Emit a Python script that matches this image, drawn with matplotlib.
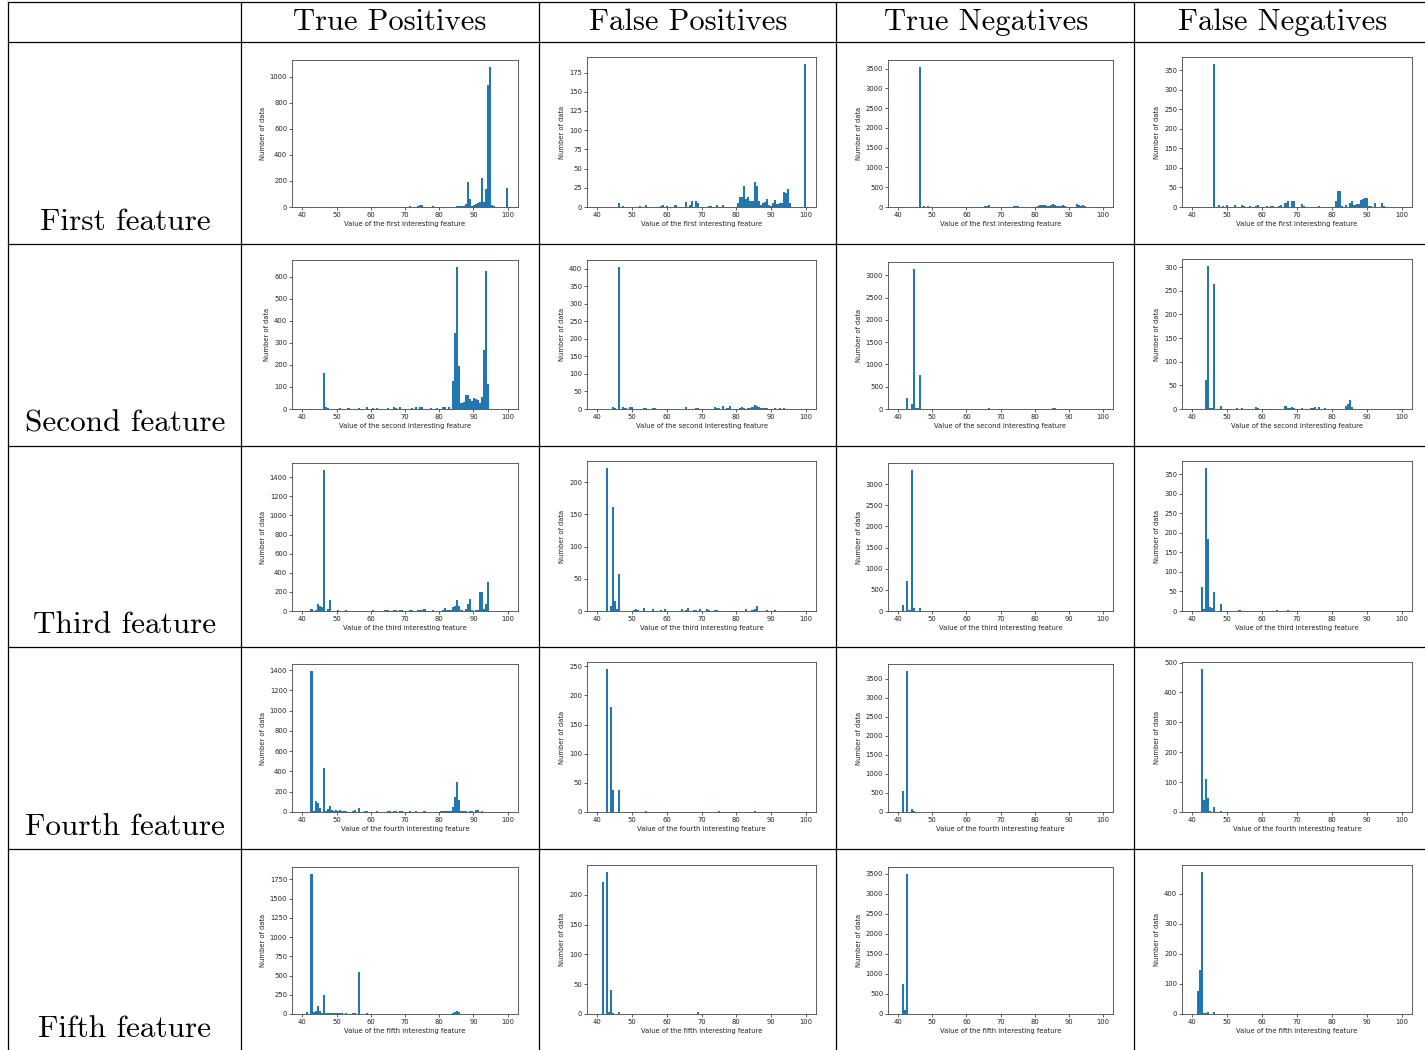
import matplotlib
matplotlib.use("Agg")
import matplotlib.pyplot as plt
from matplotlib.lines import Line2D
import numpy as np

# ---------------- data: (feature value, number of data) per histogram bin ----------------
columns = ["True Positives", "False Positives", "True Negatives", "False Negatives"]
rows = ["First feature", "Second feature", "Third feature", "Fourth feature", "Fifth feature"]
ordinals = ["first", "second", "third", "fourth", "fifth"]

TP1 = [(69.1, 3), (71.5, 4), (73.9, 5), (74.5, 13), (75.1, 14), (78.1, 8), (85.3, 4), (85.9, 4),
       (86.5, 5), (87.1, 6), (87.7, 25), (88.3, 195), (88.9, 60), (89.5, 10), (90.1, 15), (90.7, 20),
       (91.3, 30), (91.9, 40), (92.5, 225), (93.1, 40), (93.7, 135), (94.3, 940), (94.9, 1075),
       (95.5, 15), (96.1, 5), (99.7, 145)]
FP1 = [(46.3, 5), (47.5, 1), (52.3, 1), (54.1, 2), (58.3, 1), (58.9, 2), (60.1, 1), (62.5, 2),
       (65.5, 7), (66.7, 3), (67.3, 8), (68.5, 8), (69.1, 5), (72.1, 1), (72.7, 1), (74.5, 2),
       (76.3, 2), (80.5, 5), (81.1, 13), (81.7, 13), (82.3, 27), (82.9, 10), (83.5, 13), (84.1, 8),
       (84.7, 8), (85.3, 32), (85.9, 27), (86.5, 8), (87.1, 2), (87.7, 5), (88.3, 7), (88.9, 10),
       (89.5, 3), (90.1, 1), (90.7, 5), (91.3, 9), (91.9, 4), (92.5, 5), (93.1, 5), (93.7, 20),
       (94.3, 18), (94.9, 24), (95.5, 5), (99.7, 186)]
TN1 = [(46.3, 3540), (47.5, 15), (48.1, 10), (48.7, 15), (49.9, 12), (52.9, 10), (58.3, 10),
       (65.5, 20), (66.1, 25), (66.7, 40), (69.1, 10), (72.1, 10), (73.9, 15), (74.5, 15), (75.1, 15),
       (76.3, 10), (81.1, 30), (81.7, 60), (82.3, 50), (82.9, 40), (83.5, 20), (84.1, 30), (84.7, 40),
       (85.3, 80), (85.9, 40), (86.5, 20), (87.1, 15), (87.7, 30), (88.3, 50), (88.9, 20), (89.5, 10),
       (92.5, 70), (93.1, 40), (93.7, 20), (94.3, 50), (94.9, 20)]
FN1 = [(46.3, 365), (47.5, 5), (48.7, 2), (49.9, 5), (52.3, 5), (54.1, 6), (54.7, 3), (56.5, 2),
       (58.3, 2), (58.9, 4), (61.3, 2), (62.5, 3), (63.1, 3), (64.9, 2), (65.5, 5), (66.7, 10),
       (67.3, 15), (68.5, 15), (69.1, 15), (71.5, 8), (72.1, 3), (76.3, 2), (81.1, 15), (81.7, 40),
       (82.3, 40), (82.9, 2), (84.1, 5), (85.3, 10), (85.9, 15), (86.5, 5), (87.1, 7), (87.7, 8),
       (88.3, 17), (88.9, 20), (89.5, 23), (90.1, 22), (90.7, 3), (91.3, 3), (92.5, 10), (94.3, 10),
       (94.9, 3)]

TP2 = [(46.3, 165), (46.9, 10), (47.5, 5), (51.1, 3), (53.5, 3), (56.5, 3), (58.9, 10), (60.7, 4),
       (61.9, 4), (64.9, 4), (66.7, 10), (67.3, 5), (68.5, 8), (72.1, 4), (73.3, 8), (74.5, 8),
       (75.1, 8), (77.5, 5), (79.3, 4), (81.1, 10), (81.7, 8), (82.9, 10), (84.1, 125), (84.7, 345),
       (85.3, 645), (85.9, 195), (86.5, 28), (87.1, 30), (87.7, 62), (88.3, 62), (88.9, 45),
       (89.5, 35), (90.1, 48), (90.7, 45), (91.3, 40), (91.9, 28), (92.5, 55), (93.1, 268),
       (93.7, 625), (94.3, 115)]
FP2 = [(44.5, 5), (45.1, 2), (46.3, 405), (47.5, 5), (48.1, 3), (49.3, 5), (49.9, 5), (53.5, 3),
       (54.1, 3), (55.9, 3), (56.5, 3), (65.5, 5), (68.5, 3), (69.1, 3), (73.9, 5), (74.5, 3),
       (75.1, 3), (76.3, 8), (77.5, 3), (78.1, 8), (81.1, 3), (81.7, 6), (82.3, 3), (83.5, 3),
       (84.1, 3), (84.7, 5), (85.3, 10), (85.9, 8), (86.5, 5), (87.1, 4), (87.7, 4), (88.3, 4),
       (88.9, 4), (91.3, 3), (92.5, 2), (93.7, 2)]
TN2 = [(42.7, 240), (43.3, 10), (43.9, 120), (44.5, 3140), (45.1, 20), (45.7, 20), (46.3, 760),
       (66.7, 15), (85.3, 20), (85.9, 20)]
FN2 = [(43.9, 62), (44.5, 302), (45.1, 2), (45.7, 3), (46.3, 265), (48.1, 7), (52.9, 3), (54.1, 2),
       (58.3, 5), (58.9, 3), (66.7, 7), (67.3, 3), (67.9, 3), (68.5, 4), (69.1, 3), (71.5, 3),
       (73.9, 2), (74.5, 3), (75.1, 4), (76.3, 5), (78.1, 3), (84.1, 7), (84.7, 10), (85.3, 18),
       (85.9, 4)]

TP3 = [(42.7, 25), (43.9, 10), (44.5, 75), (45.1, 55), (45.7, 40), (46.3, 1475), (46.9, 5),
       (47.5, 25), (48.1, 110), (48.7, 5), (49.3, 5), (50.5, 8), (51.7, 5), (52.9, 8), (60.7, 8),
       (64.3, 8), (64.9, 8), (66.7, 8), (67.3, 8), (68.5, 10), (69.1, 10), (71.5, 8), (72.1, 8),
       (73.9, 10), (74.5, 10), (75.1, 15), (75.7, 20), (78.1, 8), (81.1, 15), (81.7, 35), (82.3, 15),
       (82.9, 10), (83.5, 15), (84.1, 40), (84.7, 55), (85.3, 115), (85.9, 55), (86.5, 15),
       (87.7, 25), (88.3, 70), (88.9, 130), (89.5, 10), (90.7, 10), (91.3, 15), (91.9, 200),
       (92.5, 198), (93.1, 20), (93.7, 70), (94.3, 300)]
FP3 = [(42.7, 222), (43.9, 7), (44.5, 162), (45.1, 15), (45.7, 3), (46.3, 58), (50.5, 2), (51.1, 3),
       (51.7, 2), (53.5, 4), (55.9, 3), (58.3, 2), (59.5, 3), (64.3, 3), (65.5, 2), (66.1, 4),
       (67.9, 2), (68.5, 2), (69.7, 3), (71.5, 3), (72.1, 2), (73.9, 2), (74.5, 2), (82.9, 3),
       (84.7, 2), (85.3, 3), (85.9, 7), (88.9, 2), (91.3, 2)]
TN3 = [(41.5, 150), (42.7, 720), (43.3, 20), (43.9, 3330), (44.5, 80), (46.3, 80)]
FN3 = [(42.7, 62), (43.3, 5), (43.9, 365), (44.5, 185), (45.1, 10), (45.7, 8), (46.3, 48),
       (48.1, 18), (53.5, 2), (64.3, 2), (67.3, 2)]

TP4 = [(42.7, 1390), (43.3, 10), (43.9, 110), (44.5, 85), (45.1, 40), (46.3, 435), (46.9, 10),
       (47.5, 25), (48.1, 60), (48.7, 15), (49.3, 10), (49.9, 15), (50.5, 10), (51.1, 15),
       (51.7, 10), (52.3, 5), (52.9, 5), (53.5, 3), (54.7, 10), (55.3, 15), (56.5, 35), (57.1, 3),
       (58.3, 8), (58.9, 8), (61.9, 5), (64.9, 5), (65.5, 8), (66.7, 8), (67.3, 5), (68.5, 10),
       (69.1, 8), (71.5, 5), (73.3, 5), (75.7, 5), (80.5, 8), (81.1, 8), (81.7, 8), (82.3, 8),
       (82.9, 10), (83.5, 10), (84.1, 50), (84.7, 145), (85.3, 300), (85.9, 115), (86.5, 5),
       (87.1, 10), (87.7, 10), (88.9, 10), (89.5, 8), (90.7, 15), (91.3, 15), (92.5, 5)]
FP4 = [(42.7, 245), (43.9, 180), (44.5, 38), (46.3, 37), (54.1, 2), (75.1, 2), (85.3, 2)]
TN4 = [(41.5, 540), (42.7, 3700), (43.9, 80), (44.5, 20)]
FN4 = [(42.7, 478), (43.3, 40), (43.9, 112), (44.5, 48), (45.1, 3), (46.3, 18), (48.1, 3)]

TP5 = [(41.5, 25), (42.7, 1820), (43.3, 25), (43.9, 40), (44.5, 100), (45.1, 40), (45.7, 10),
       (46.3, 245), (46.9, 10), (47.5, 10), (48.1, 10), (48.7, 10), (49.3, 10), (49.9, 10),
       (50.5, 10), (51.1, 10), (51.7, 10), (52.9, 8), (54.7, 10), (55.3, 15), (56.5, 540),
       (58.9, 8), (70.9, 5), (75.7, 5), (84.1, 15), (84.7, 20), (85.3, 40), (85.9, 20)]
FP5 = [(41.5, 222), (42.7, 238), (43.3, 3), (43.9, 40), (44.5, 2), (46.3, 3), (69.1, 3)]
TN5 = [(41.5, 760), (42.1, 100), (42.7, 3500)]
FN5 = [(41.5, 78), (42.1, 145), (42.7, 472), (43.3, 3), (43.9, 3), (44.5, 5), (46.3, 5)]

bin_range = (40, 100)
n_bins = 100

panels = [[TP1, FP1, TN1, FN1],
          [TP2, FP2, TN2, FN2],
          [TP3, FP3, TN3, FN3],
          [TP4, FP4, TN4, FN4],
          [TP5, FP5, TN5, FN5]]

# ---------------- layout (pixels) ----------------
W, H = 1425, 1050
fig = plt.figure(figsize=(W / 100, H / 100), dpi=100)

col_lr = [(292, 518), (587, 816), (888, 1113), (1182, 1412)]
row_tops = [(60, 57, 60, 57), (260, 260, 262, 259), (463, 461, 463, 461),
            (664, 662, 664, 662), (867, 865, 867, 865)]
row_bottoms = [207, 409, 611, 812, 1014]

edges = np.linspace(bin_range[0], bin_range[1], n_bins + 1)
tick_fs = 4.9
label_fs = 4.9
txt_col = "#222222"

for r in range(5):
    for c in range(4):
        l, rr = col_lr[c]
        t = row_tops[r][c]
        b = row_bottoms[r]
        ax = fig.add_axes([l / W, 1 - b / H, (rr - l) / W, (b - t) / H])
        vals = [p[0] for p in panels[r][c]]
        cnts = [p[1] for p in panels[r][c]]
        ax.hist(vals, bins=edges, weights=cnts, color="#1f77b4")
        ax.set_xlabel(f"Value of the {ordinals[r]} interesting feature",
                      fontsize=label_fs, color=txt_col, labelpad=2.5)
        ax.set_ylabel("Number of data", fontsize=label_fs, color=txt_col, labelpad=3)
        ax.tick_params(labelsize=tick_fs, length=2, width=0.5, pad=1.5,
                       colors=txt_col)
        for s in ax.spines.values():
            s.set_linewidth(0.6)
            s.set_color("#444444")

# ---------------- table grid ----------------
def hline(y, x0=8, x1=W):
    fig.add_artist(Line2D([x0 / W, x1 / W], [1 - y / H, 1 - y / H],
                          transform=fig.transFigure, color="black", lw=0.9))

def vline(x, y0=2, y1=H):
    fig.add_artist(Line2D([x / W, x / W], [1 - y0 / H, 1 - y1 / H],
                          transform=fig.transFigure, color="black", lw=0.9))

for y in [2, 42, 244, 446, 647, 849]:
    hline(y)
for x in [8, 241, 539, 836, 1134]:
    vline(x)

# ---------------- headers ----------------
head_x = [390, 688, 986, 1283]
for x, name in zip(head_x, columns):
    fig.text(x / W, 1 - 22 / H, name, family="cmr10", fontsize=22,
             ha="center", va="center")

row_y = [222, 424, 625, 827, 1029]
for y, name in zip(row_y, rows):
    fig.text(125 / W, 1 - y / H, name, family="cmr10", fontsize=22.5,
             ha="center", va="center")

fig.savefig("out.png", dpi=100)
